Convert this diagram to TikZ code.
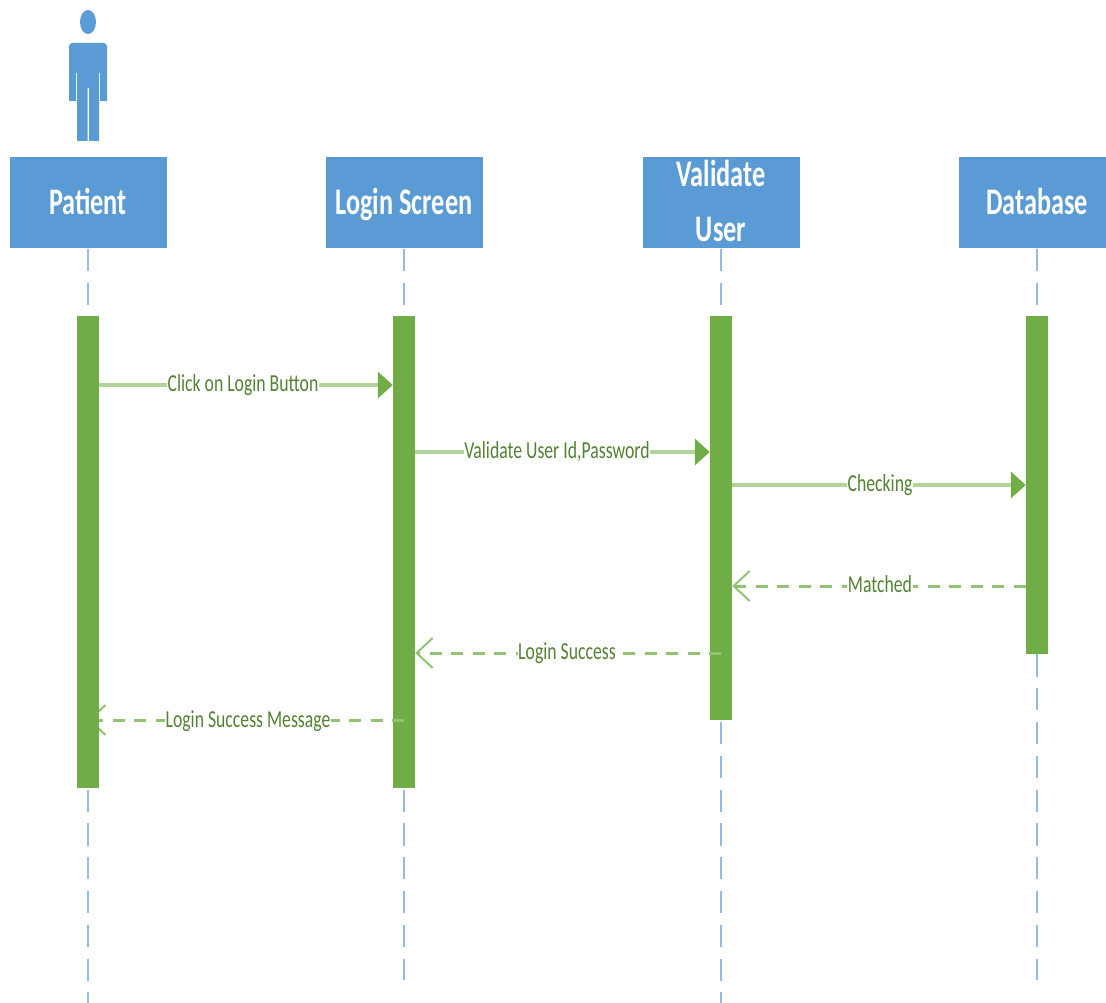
\documentclass[tikz,border=0pt]{standalone}
\usepackage{fontspec}
\usepackage{graphicx}
\setmainfont{Carlito}
\usetikzlibrary{arrows.meta}
\definecolor{hdr}{HTML}{5B9BD5}
\definecolor{bar}{HTML}{70AD47}
\definecolor{msg}{HTML}{B0D49A}
\definecolor{ret}{HTML}{93C273}
\definecolor{lbl}{HTML}{548235}
\definecolor{lifec}{HTML}{92BCE6}
\newcommand{\hd}[1]{\raisebox{0pt}[28pt][5pt]{\scalebox{0.875}[1.25]{\bfseries #1}}}
\newcommand{\mg}[1]{\raisebox{0pt}[18pt][4.2pt]{\scalebox{0.885}[1.22]{#1}}}
\tikzset{
  x=1pt,y=-1pt,
  headbox/.style={fill=hdr,draw=none,minimum width=157pt,minimum height=91pt,text=white,font=\fontsize{30}{36}\selectfont,align=center,inner sep=0pt},
  lifebar/.style={fill=bar,draw=none,minimum width=22pt,inner sep=0pt,anchor=north},
  lifeline/.style={draw=lifec,line width=2.5pt,dash pattern=on 22.3pt off 11.5pt},
  msglabel/.style={fill=white,text=lbl,font=\fontsize{20}{24}\selectfont,inner xsep=0.5pt,inner ysep=0pt},
  callline/.style={draw=msg,line width=3.5pt,-{Triangle[length=15pt,width=26pt,color=bar,fill=bar]}},
  retline/.style={draw=ret,line width=3pt,dash pattern=on 12pt off 9.5pt,-{Straight Barb[length=16pt,width=30pt,line width=2pt,color=ret]}},
}
\begin{document}
\begin{tikzpicture}
\useasboundingbox (0,0) rectangle (1106,1003);
% actor
\fill[hdr] (88,22) ellipse (8 and 12);
\fill[hdr] (72,43) -- (104,43) to[out=0,in=90] (107,47) -- (107,101) -- (100,101) -- (100,73) -- (99,73) -- (99,141) -- (89,141) -- (89,88) -- (87.5,88) -- (87.5,141) -- (77,141) -- (77,73) -- (76,73) -- (76,101) -- (69,101) -- (69,47) to[out=90,in=180] cycle;
% heads
\node[headbox] (h1) at (88,203) {\hd{Patient}};
\node[headbox] (h2) at (404,203) {\hd{Login Screen}};
\node[headbox] (h3) at (721,203) {\hd{Validate}\\[19pt]\hd{User}};
\node[headbox] (h4) at (1037,203) {\hd{Database}};
% life line ends
\coordinate (e1) at (88,1003);
\coordinate (e2) at (404,980);
\coordinate (e3) at (721,1003);
\coordinate (e4) at (1037,980);
\draw[lifeline] (h1.south) -- (e1);
\draw[lifeline] (h2.south) -- (e2);
\draw[lifeline] (h3.south) -- (e3);
\draw[lifeline] (h4.south) -- (e4);
% activation bars
\node[lifebar,minimum height=472pt] (b2) at (404,316) {};
\node[lifebar,minimum height=404pt] (b3) at (721,316) {};
\node[lifebar,minimum height=338pt] (b4) at (1037,316) {};
% the last reply runs to the centre of the first bar, which covers its tip
\coordinate (m6a) at (b2.center |- 0,720);
\coordinate (m6b) at (e1 |- 0,720);
\draw[retline] (m6a) -- (m6b);
\node[lifebar,minimum height=472pt] (b1) at (88,316) {};
% message anchors
\coordinate (m1a) at (b1.east |- 0,385);
\coordinate (m1b) at (b2.west |- 0,385);
\coordinate (m2a) at (b2.east |- 0,452);
\coordinate (m2b) at (b3.west |- 0,452);
\coordinate (m3a) at (b3.east |- 0,485);
\coordinate (m3b) at (b4.west |- 0,485);
\coordinate (m4a) at (b4.west |- 0,586);
\coordinate (m4b) at (b3.east |- 0,586);
\coordinate (m5a) at (b3.center |- 0,653);
\coordinate (m5b) at (b2.east |- 0,653);
\draw[callline] (m1a) -- (m1b);
\draw[callline] (m2a) -- (m2b);
\draw[callline] (m3a) -- (m3b);
\draw[retline] (m4a) -- (m4b);
\draw[retline] (m5a) -- (m5b);
\node[msglabel] (l1) at (243,385) {\mg{Click on Login Button}};
\node[msglabel] (l2) at (557,452) {\mg{Validate User Id,Password}};
\node[msglabel] (l3) at (880,485) {\mg{Checking}};
\node[msglabel] (l4) at (880,586) {\mg{Matched}};
\node[msglabel] (l5) at (567,653) {\mg{Login Success}};
\node[msglabel] (l6) at (248,721) {\mg{Login Success Message}};
\end{tikzpicture}
\end{document}
